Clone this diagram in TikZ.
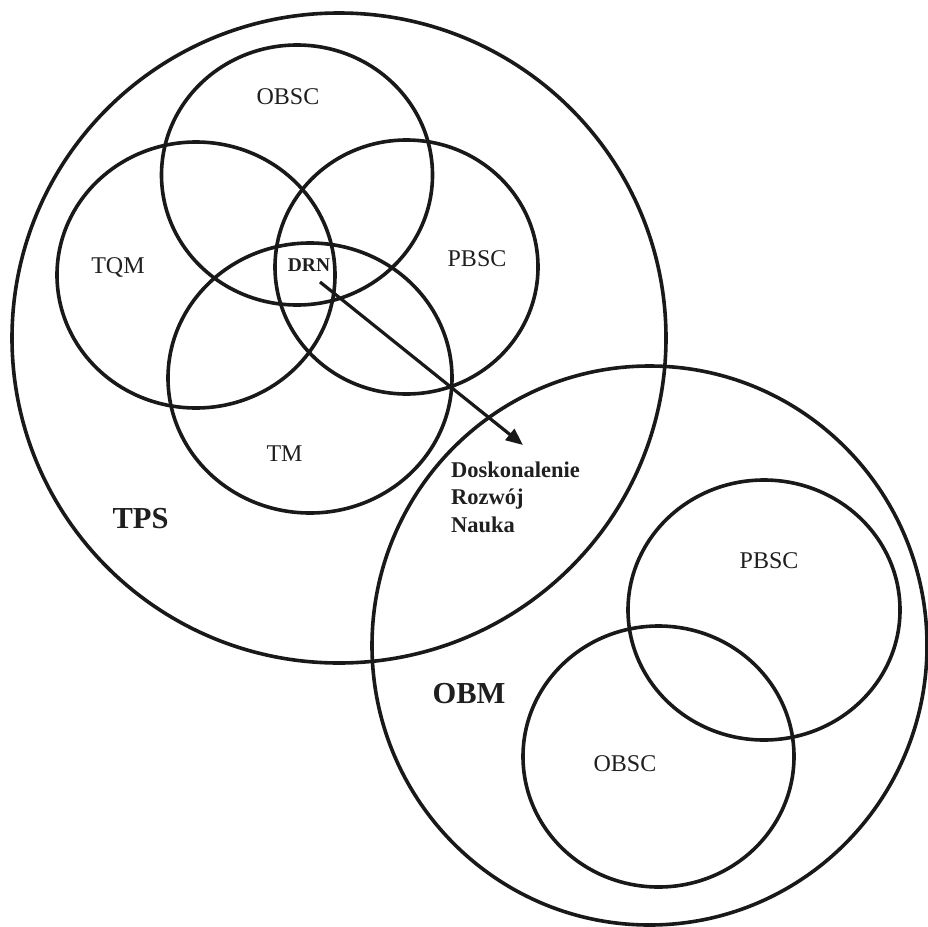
\documentclass[tikz,border=0pt]{standalone}
\usepackage{fontspec}
\setmainfont{Liberation Serif}
\usetikzlibrary{shapes.geometric,arrows.meta}

\tikzset{
  ring/.style={draw=black!90, line width=3.6pt, ellipse, inner sep=0pt, fill=none},
  setlabel/.style={anchor=base, inner sep=0pt, font=\fontsize{24}{28}\selectfont, text=black!88},
  corelabel/.style={anchor=base, inner sep=0pt, font=\fontsize{19.5}{23}\selectfont\bfseries, text=black!88},
  biglabel/.style={anchor=base, inner sep=0pt, font=\fontsize{30.5}{34}\selectfont\bfseries, text=black!88},
  notelabel/.style={anchor=base west, inner sep=0pt, font=\fontsize{22.5}{27}\selectfont\bfseries, text=black!88},
  pointer/.style={draw=black!90, line width=3.2pt, -{Triangle[length=17pt,width=14pt]}}
}

\begin{document}
\begin{tikzpicture}[x=1pt, y=-1pt]
  \useasboundingbox (0,0) rectangle (928,926);

  % outer systems
  \node[ring, minimum width=654pt, minimum height=650pt] (tps) at (339,338) {};
  \node[ring, minimum width=555pt, minimum height=559pt] (obm) at (649.5,645.5) {};

  % four overlapping methods inside TPS
  \node[ring, minimum width=271pt, minimum height=260pt] (obsc) at (297,175) {};
  \node[ring, minimum width=278pt, minimum height=266pt] (tqm)  at (196,275) {};
  \node[ring, minimum width=263pt, minimum height=254pt] (pbsc) at (406.5,267) {};
  \node[ring, minimum width=284pt, minimum height=270pt] (tm)   at (310,378) {};

  % two overlapping methods inside OBM
  \node[ring, minimum width=272pt, minimum height=260pt] (pbscb) at (764,610) {};
  \node[ring, minimum width=271pt, minimum height=261pt] (obscb) at (658.5,756.5) {};

  % labels
  \node[setlabel] (lobsc) at (288,104.5) {OBSC};
  \node[setlabel] (ltqm)  at (118,273) {TQM};
  \node[setlabel] (lpbsc) at (477,266.5) {PBSC};
  \node[setlabel] (ltm)   at (284.5,461.5) {TM};
  \node[corelabel] (ldrn) at (309,271.5) {DRN};
  \node[biglabel] (ltps) at (140.5,528) {TPS};
  \node[biglabel] (lobm) at (469,703.5) {OBM};
  \node[setlabel] (lpbscb) at (769,568.5) {PBSC};
  \node[setlabel] (lobscb) at (625,771) {OBSC};

  \node[notelabel] (dosk)  at (451,477) {Doskonalenie};
  \node[notelabel] (rozw)  at (451,504.5) {Rozwój};
  \node[notelabel] (nauka) at (451,532) {Nauka};

  % arrow from the common core to its outcomes
  \coordinate (core) at (320,282);
  \coordinate (outcome) at (523,445);
  \draw[pointer] (core) -- (outcome);
\end{tikzpicture}
\end{document}
